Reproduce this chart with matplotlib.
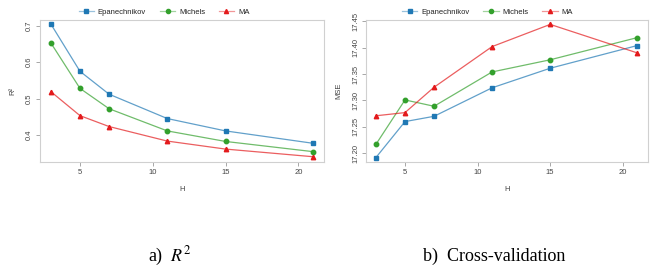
import numpy as np
import matplotlib
matplotlib.use("Agg")
import matplotlib.pyplot as plt
from matplotlib.lines import Line2D
from matplotlib.legend_handler import HandlerTuple

# Bandwidth values
h_values = [3, 5, 7, 11, 15, 21]

# a) R^2
r2_epanechnikov = [0.705, 0.575, 0.512, 0.445, 0.411, 0.377]
r2_michels = [0.653, 0.528, 0.472, 0.411, 0.382, 0.354]
r2_ma = [0.519, 0.453, 0.423, 0.383, 0.361, 0.340]

# b) Cross-validation MSE
mse_epanechnikov = [17.192, 17.260, 17.270, 17.324, 17.361, 17.404]
mse_michels = [17.217, 17.301, 17.289, 17.354, 17.377, 17.419]
mse_ma = [17.271, 17.277, 17.325, 17.402, 17.444, 17.390]

series_names = ["Epanechnikov", "Michels", "MA"]
series_colors = ["#1f78b4", "#33a02c", "#e31a1c"]
series_markers = ["s", "o", "^"]

plt.rcParams["font.family"] = ["Liberation Sans", "DejaVu Sans"]
plt.rcParams["mathtext.fontset"] = "stix"

fig = plt.figure(figsize=(6.5, 2.69), dpi=100)
ax_left = fig.add_axes([0.0615, 0.398, 0.437, 0.528])
ax_right = fig.add_axes([0.563, 0.398, 0.434, 0.528])

spine_color = "#d0d0d0"
text_color = "#444444"
tick_font_size = 5.5


def draw_panel(ax, series, ylabel, yticks, ylim, xlim, yfmt, legend_x):
    handles = []
    for values, name, color, marker in zip(
        series, series_names, series_colors, series_markers
    ):
        ax.plot(h_values, values, color=color, linewidth=0.9, alpha=0.7, zorder=2)
        ax.plot(
            h_values,
            values,
            linestyle="none",
            marker=marker,
            markersize=3.2,
            color=color,
            zorder=3,
        )
        # legend: light line with a solid marker on top
        line_proxy = Line2D([], [], color=color, linewidth=0.9, alpha=0.45)
        mark_proxy = Line2D(
            [], [], linestyle="none", marker=marker, markersize=3.0, color=color
        )
        handles.append((line_proxy, mark_proxy))

    ax.set_xlim(*xlim)
    ax.set_ylim(*ylim)
    ax.set_xticks([5, 10, 15, 20])
    ax.set_yticks(yticks)
    ax.set_yticklabels([yfmt.format(v) for v in yticks], rotation=90, va="center")

    for spine in ax.spines.values():
        spine.set_color(spine_color)
        spine.set_linewidth(0.8)

    ax.tick_params(
        direction="out",
        length=3,
        width=0.6,
        color="#999999",
        labelsize=tick_font_size,
        labelcolor=text_color,
        pad=2,
    )
    ax.set_xlabel("H", fontsize=tick_font_size, color=text_color, labelpad=7)
    ax.set_ylabel(ylabel, fontsize=tick_font_size, color=text_color, labelpad=7)

    ax.legend(
        handles,
        series_names,
        handler_map={tuple: HandlerTuple(ndivide=1)},
        loc="lower center",
        bbox_to_anchor=(legend_x, 1.0),
        ncol=3,
        frameon=False,
        fontsize=tick_font_size,
        handlelength=2.0,
        handletextpad=0.5,
        columnspacing=1.8,
        labelcolor="#222222",
        borderaxespad=0.1,
    )


draw_panel(
    ax_left,
    [r2_epanechnikov, r2_michels, r2_ma],
    "R²",
    [0.4, 0.5, 0.6, 0.7],
    (0.3256, 0.7165),
    (2.25, 21.77),
    "{:.1f}",
    0.437,
)
draw_panel(
    ax_right,
    [mse_epanechnikov, mse_michels, mse_ma],
    "MSE",
    [17.20, 17.25, 17.30, 17.35, 17.40, 17.45],
    (17.1836, 17.4525),
    (2.31, 21.74),
    "{:.2f}",
    0.431,
)

# Captions
fig.text(
    0.262,
    0.03,
    "a)  $R^2$",
    fontsize=13,
    family="Liberation Serif",
    ha="center",
    va="baseline",
)
fig.text(
    0.761,
    0.03,
    "b)  Cross-validation",
    fontsize=13,
    family="Liberation Serif",
    ha="center",
    va="baseline",
)

fig.savefig("out.png", dpi=100)
